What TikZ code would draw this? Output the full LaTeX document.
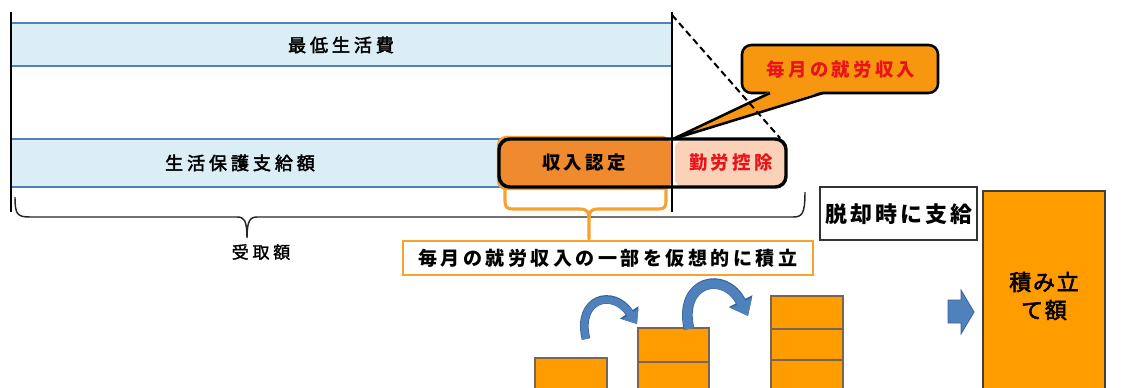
\documentclass[tikz,border=0pt]{standalone}
\usepackage{fontspec}
\setmainfont{Noto Sans CJK JP}
\newfontfamily\jsa[LetterSpace=22,FakeBold=2.5]{Noto Sans CJK JP}
\newfontfamily\jsr[LetterSpace=22,FakeBold=1.5]{Noto Sans CJK JP}
\newfontfamily\jsb[LetterSpace=18]{Noto Sans CJK JP}
\newfontfamily\jsc[LetterSpace=13]{Noto Sans CJK JP}
\newfontfamily\jsd[LetterSpace=8,FakeBold=2.5]{Noto Sans CJK JP}
\usetikzlibrary{arrows.meta,fit}
\definecolor{bandfill}{HTML}{DCEEF5}
\definecolor{bandline}{HTML}{4F81BD}
\definecolor{obrace}{HTML}{F7A12E}
\definecolor{shunyu}{HTML}{F08A2E}
\definecolor{kinrou}{HTML}{FBD2B8}
\definecolor{callout}{HTML}{F7960F}
\definecolor{stackor}{HTML}{FF9C00}
\definecolor{stackedge}{HTML}{7A6650}
\definecolor{arrowblue}{HTML}{4F81BD}
\definecolor{arrowedge}{HTML}{3A6496}
\definecolor{redtext}{HTML}{E8141B}
\begin{document}
\begin{tikzpicture}[x=0.75pt,y=-0.75pt,
  every node/.style={inner sep=0pt, outer sep=0pt},
  bandedge/.style={draw=bandline, line width=2.1pt},
  vline/.style={draw=black, line width=2.2pt},
  blackbrace/.style={draw=black!85, line width=1.1pt},
  orangebrace/.style={draw=obrace, line width=2.3pt, line cap=round},
  stackbox/.style={fill=stackor, draw=stackedge, line width=1.6pt},
  lbl/.style={font=\jsa\fontsize{13.5pt}{16pt}\selectfont},
  lblb/.style={font=\jsb\bfseries\fontsize{13.8pt}{16pt}\selectfont}
]
\clip (0,0) rectangle (1134,387);
\fill[white] (0,0) rectangle (1134,387);

% bands
\fill[bandfill] (11,23) rectangle (672,66);
\draw[bandedge] (11,23) -- (672,23);
\draw[bandedge] (11,66) -- (672,66);
\fill[bandfill] (11,139) rectangle (672,187);
\draw[bandedge] (11,139) -- (672,139);
\draw[bandedge] (11,187) -- (672,187);
\node[lbl] (minlife) at (341,45) {最低生活費};
\node[lbl] (support) at (240,163) {生活保護支給額};

% black brace
\draw[blackbrace] (15,197) .. controls (15,214) and (17,217) .. (30,217) -- (237,217)
  .. controls (244,217) and (247,220) .. (247,238)
  .. controls (247,221) and (250,217) .. (257,217) -- (793,217)
  .. controls (802,217) and (805,214) .. (805,192);
\node[font=\jsr\fontsize{12.75pt}{15pt}\selectfont] (recv) at (261,252) {受取額};

% orange outline and brace
\draw[draw=obrace, line width=1.6pt, rounded corners=6pt] (498,137) rectangle (670,189);
\draw[orangebrace] (505,188) -- (505,201) .. controls (505,207) and (507,209) .. (513,209) -- (580,209)
  .. controls (587,209) and (589,212) .. (589,218) -- (589,239);
\draw[orangebrace] (589,218) .. controls (589,212) and (591,209) .. (598,209) -- (659,209)
  .. controls (664,209) and (666,207) .. (666,201) -- (666,188);

% income recognition / deduction boxes
\node[fit={(499,139)(672,187)}, fill=shunyu, rounded corners=6pt] (shunyu) {};
\node[fit={(675,141)(785,186)}, fill=kinrou, rounded corners=5pt] (kinrou) {};
\node[fit={(499,139)(786,187)}, draw=black, line width=2.6pt, rounded corners=8pt] (combo) {};
\node[lblb] (shunyutext) at (584,163) {収入認定};
\node[lblb, text=redtext] (kinroutext) at (731,163) {勤労控除};

% vertical lines
\draw[vline] (11,12) -- (11,212);
\draw[vline] (672,12) -- (672,212);

% accumulation caption
\node[fit={(403,241)(813,275)}, draw=obrace, line width=1.8pt, fill=white] (acc) {};
\node[font=\jsb\bfseries\fontsize{14.3pt}{16pt}\selectfont] (acctext) at (acc.center) {毎月の就労収入の一部を仮想的に積立};

% callout
\node[fit={(742,45)(938,93)}, fill=callout, draw=black, line width=1.9pt, rounded corners=7pt] (call) {};
\node[lblb, text=redtext] (calltext) at (841,70) {毎月の就労収入};
\coordinate (tip) at (673,139);
\fill[callout] (770,91.2) -- (823,91.2) -- (tip) -- cycle;
\draw[line width=1.9pt, line join=miter] (770,93) -- (tip) -- (823,93);
\draw[line width=1.5pt, dash pattern=on 5pt off 3pt] (672,15) -- (780,138);

% stacks
\node[fit={(535,358)(607,400)}, stackbox] (s1a) {};
\node[fit={(638,362)(709,400)}, stackbox] (s2b) {};
\node[fit={(638,328)(709,362)}, stackbox] (s2a) {};
\node[fit={(771,360)(843,400)}, stackbox] (s3c) {};
\node[fit={(771,329)(843,360)}, stackbox] (s3b) {};
\node[fit={(771,296)(843,329)}, stackbox] (s3a) {};

% curved arrows
\coordinate (c1s) at (586,339);
\coordinate (c1e) at (637,324);
\coordinate (c2s) at (689,329);
\coordinate (c2e) at (748,316);
\draw[draw=arrowedge, line width=6.5pt, -{Triangle[width=16pt,length=10.5pt]}]
  (c1s) .. controls (576,298) and (613,288) .. (c1e);
\draw[draw=arrowblue, line width=5.3pt, -{Triangle[width=14pt,length=9pt]}]
  (c1s) .. controls (576,298) and (613,288) .. (c1e);
\draw[draw=arrowedge, line width=8pt, -{Triangle[width=19pt,length=12.5pt]}]
  (c2s) .. controls (678,280) and (725,270) .. (c2e);
\draw[draw=arrowblue, line width=6.8pt, -{Triangle[width=17pt,length=11pt]}]
  (c2s) .. controls (678,280) and (725,270) .. (c2e);

% exit payment
\node[fit={(820,187)(977,240)}, draw=black!80, line width=0.8pt, fill=white] (exitbox) {};
\node[font=\jsc\bfseries\fontsize{16.5pt}{18pt}\selectfont] (exittext) at (899,214) {脱却時に支給};

% block arrow
\fill[arrowblue, draw=arrowedge, line width=0.6pt] (948,300) -- (961,300) -- (961,290) -- (974,312) -- (961,334) -- (961,323) -- (948,323) -- cycle;

% total
\node[fit={(983,191)(1105,400)}, fill=stackor, draw=black!75, line width=1.8pt] (total) {};
\node[font=\jsd\fontsize{16.5pt}{21pt}\selectfont, align=center] (totaltext) at (1044,296) {積み立\\て額};
\end{tikzpicture}
\end{document}
